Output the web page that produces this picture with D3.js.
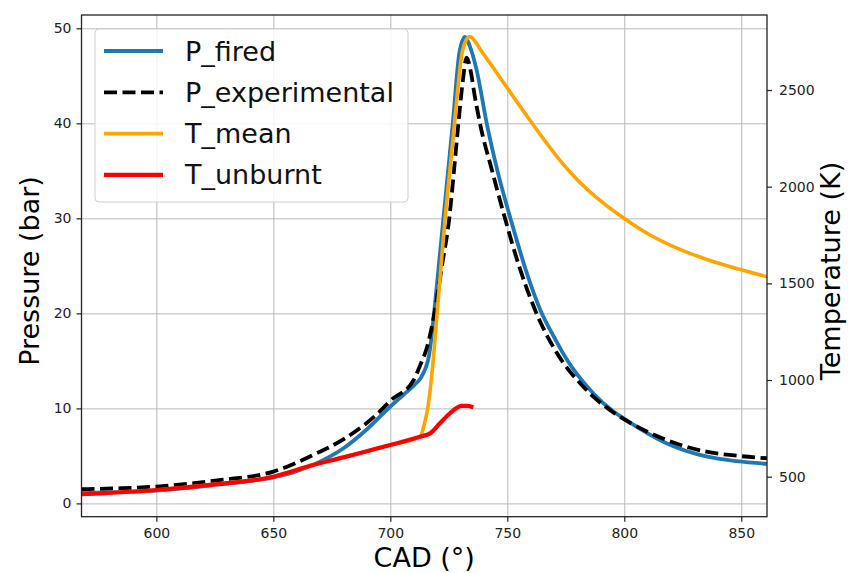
<!DOCTYPE html>
<html>
<head>
<meta charset="utf-8">
<script src="https://cdn.jsdelivr.net/npm/d3@7/dist/d3.min.js"></script>
<style>
  body { margin: 0; background: #fff; }
  svg text { font-family: "DejaVu Sans", sans-serif; }
</style>
</head>
<body>
<div id="chart"></div>
<script>
// crank angle (deg) and pressure (bar) / temperature (K)
var firedCad = [568, 580, 600, 612, 625, 638, 650, 660, 670, 680, 690, 700, 705, 710, 713, 715, 716.5, 718.7, 720.7, 722.7, 724.7, 726.7, 729.5, 731.9, 734, 736.9, 741.2, 745.8, 751.8, 758, 764.2, 770, 775.3, 786.7, 795.2, 800, 818, 835, 848, 861];
var firedP = [1.1, 1.15, 1.35, 1.6, 1.95, 2.3, 2.75, 3.4, 4.4, 5.8, 7.8, 10.2, 11.3, 12.4, 13.2, 14.2, 15.5, 20, 25, 30, 35, 40, 47.4, 49.1, 48.1, 45.6, 40, 35, 29.6, 24.5, 20.3, 17.5, 15.2, 11.6, 9.7, 8.9, 6.34, 4.95, 4.45, 4.16];

var expCad = [568, 585, 600, 625, 650, 667, 681, 695.6, 700, 710, 712.7, 715.5, 717.5, 719.5, 722.2, 725.2, 727.2, 729.1, 731, 732.6, 734.5, 736, 738.3, 743.5, 749, 755, 761.8, 771, 782.4, 793.8, 800, 818, 835, 848, 861];
var expP = [1.5, 1.6, 1.77, 2.4, 3.35, 5.1, 6.9, 9.7, 10.8, 13.0, 14.5, 16.3, 18.3, 21, 25.2, 30, 35, 40, 44.5, 46.9, 45.3, 43, 40, 35, 30, 25, 20.4, 15.9, 12.3, 9.84, 8.85, 6.68, 5.45, 5.02, 4.75];

var meanCad = [568, 600, 625, 650, 667, 680, 690, 700, 712.7, 714.5, 716.3, 718, 720, 723.4, 725.5, 727.6, 730.5, 732.5, 734, 736, 739, 744, 750, 759.6, 765.3, 772.6, 779.6, 790, 800, 811, 822, 835, 850, 861];
var meanT = [409, 431, 460, 500, 560, 600, 632, 664, 707, 770, 879, 1060, 1345, 1836, 2090, 2350, 2680, 2760, 2776, 2755, 2700, 2615, 2510, 2345, 2250, 2135, 2040, 1925, 1835, 1750, 1685, 1625, 1570, 1534];

var unburntCad = [568, 600, 625, 650, 667, 680, 690, 700, 712.7, 717, 721.2, 725.5, 728.4, 730.5, 732.6, 735.5];
var unburntT = [409, 431, 460, 500, 560, 600, 632, 664, 707, 724, 776, 828, 856, 866, 866, 859];

var cadTicks = [600, 650, 700, 750, 800, 850];
var pTicks = [0, 10, 20, 30, 40, 50];
var tTicks = [500, 1000, 1500, 2000, 2500];

var series = [
  {name: "P_fired", cad: firedCad, val: firedP, axis: "p", color: "#1f77b4", width: 3.8, dash: null},
  {name: "P_experimental", cad: expCad, val: expP, axis: "p", color: "#000000", width: 3.8, dash: "13,5.5"},
  {name: "T_mean", cad: meanCad, val: meanT, axis: "t", color: "#ffa500", width: 3.6, dash: null},
  {name: "T_unburnt", cad: unburntCad, val: unburntT, axis: "t", color: "#ff0000", width: 4.2, dash: null}
];

var W = 848, H = 573,
    plotL = 81.5, plotR = 767, plotT = 15, plotB = 516.7;

var svg = d3.select("#chart").append("svg")
    .attr("width", W)
    .attr("height", H);

var x = d3.scaleLinear().domain([568, 861]).range([plotL, plotR]);
var yP = d3.scaleLinear().domain([-1.4, 51.4]).range([plotB, plotT]);
var yT = d3.scaleLinear().domain([293, 2888]).range([plotB, plotT]);

// grid
svg.append("g")
    .attr("transform", "translate(0," + plotB + ")")
    .call(d3.axisBottom(x).tickValues(cadTicks).tickSize(-(plotB - plotT)).tickFormat(""))
    .call(function(g) {
      g.select(".domain").remove();
      g.selectAll("line").attr("stroke", "#b8b8b8").attr("stroke-width", 1);
    });
svg.append("g")
    .attr("transform", "translate(" + plotL + ",0)")
    .call(d3.axisLeft(yP).tickValues(pTicks).tickSize(-(plotR - plotL)).tickFormat(""))
    .call(function(g) {
      g.select(".domain").remove();
      g.selectAll("line").attr("stroke", "#b8b8b8").attr("stroke-width", 1);
    });

svg.append("clipPath").attr("id", "plotclip")
  .append("rect")
    .attr("x", plotL).attr("y", plotT)
    .attr("width", plotR - plotL).attr("height", plotB - plotT);

var plot = svg.append("g").attr("clip-path", "url(#plotclip)");

series.forEach(function(s) {
  var yy = s.axis == "p" ? yP : yT;
  var line = d3.line()
      .x(function(d, i) { return x(s.cad[i]); })
      .y(function(d) { return yy(d); })
      .curve(d3.curveMonotoneX);
  var path = plot.append("path")
      .datum(s.val)
      .attr("d", line)
      .attr("fill", "none")
      .attr("stroke", s.color)
      .attr("stroke-width", s.width)
      .attr("stroke-linejoin", "round");
  if (s.dash) path.attr("stroke-dasharray", s.dash);
});

// axes
function styleAxis(g) {
  g.select(".domain").remove();
  g.selectAll("line").attr("stroke", "#222").attr("stroke-width", 1.2);
  g.selectAll("text").attr("fill", "#222").style("font-size", "14px")
    .style("font-family", "'DejaVu Sans', sans-serif");
}

svg.append("g")
    .attr("transform", "translate(0," + plotB + ")")
    .call(d3.axisBottom(x).tickValues(cadTicks).tickSize(5).tickPadding(6))
    .call(styleAxis);

svg.append("g")
    .attr("transform", "translate(" + plotL + ",0)")
    .call(d3.axisLeft(yP).tickValues(pTicks).tickSize(5).tickPadding(5))
    .call(styleAxis);

svg.append("g")
    .attr("transform", "translate(" + plotR + ",0)")
    .call(d3.axisRight(yT).tickValues(tTicks).tickFormat(d3.format("d")).tickSize(5).tickPadding(7))
    .call(styleAxis);

svg.append("rect")
    .attr("x", plotL).attr("y", plotT)
    .attr("width", plotR - plotL).attr("height", plotB - plotT)
    .attr("fill", "none")
    .attr("stroke", "#222")
    .attr("stroke-width", 1.3);

// axis labels
svg.append("text")
    .attr("x", (plotL + plotR) / 2)
    .attr("y", 567)
    .attr("text-anchor", "middle")
    .style("font-size", "27px")
    .text("CAD (°)");

svg.append("text")
    .attr("transform", "translate(39," + 271 + ") rotate(-90)")
    .attr("text-anchor", "middle")
    .style("font-size", "27px")
    .text("Pressure (bar)");

svg.append("text")
    .attr("transform", "translate(840," + 271 + ") rotate(-90)")
    .attr("text-anchor", "middle")
    .style("font-size", "27px")
    .text("Temperature (K)");

// legend
var legend = svg.append("g");
legend.append("rect")
    .attr("x", 95).attr("y", 29)
    .attr("width", 313).attr("height", 173)
    .attr("rx", 4)
    .attr("fill", "#fff")
    .attr("fill-opacity", 0.85)
    .attr("stroke", "#d0d0d0")
    .attr("stroke-width", 1);

series.forEach(function(s, i) {
  var ly = 51 + i * 41.3;
  var l = legend.append("line")
      .attr("x1", 104).attr("x2", 163)
      .attr("y1", ly).attr("y2", ly)
      .attr("stroke", s.color)
      .attr("stroke-width", s.width);
  if (s.dash) l.attr("stroke-dasharray", s.dash);
  legend.append("text")
      .attr("x", 185)
      .attr("y", ly + 9.5)
      .style("font-size", "27px")
      .attr("fill", "#111")
      .text(s.name);
});
</script>
</body>
</html>
